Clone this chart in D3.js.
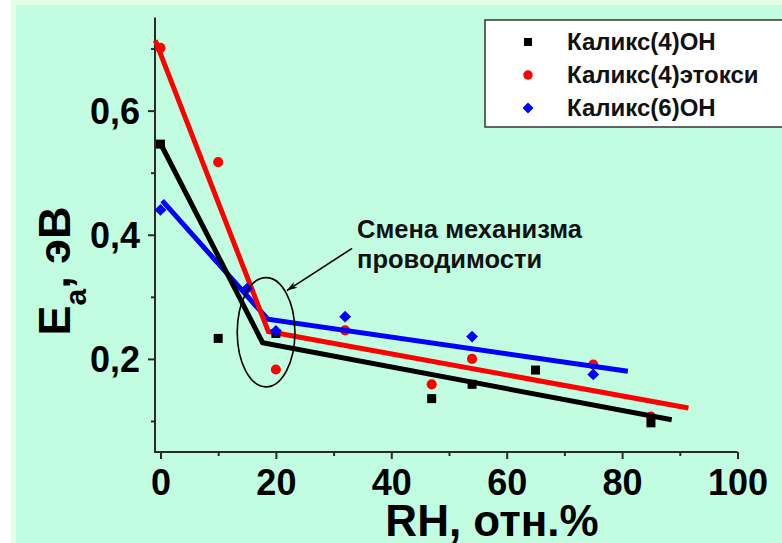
<!DOCTYPE html>
<html>
<head>
<meta charset="utf-8">
<script src="https://cdn.jsdelivr.net/npm/d3@7"></script>
<style>
  html, body { margin: 0; padding: 0; background: #fff; }
  svg { display: block; font-family: "Liberation Sans", Arial, sans-serif; font-weight: bold; }
</style>
</head>
<body>
<svg id="chart" width="782" height="543"></svg>
<script>
// measured points
const calix4OH_rh = [0, 10, 20, 47, 54, 65, 85]
const calix4OH_ea = [0.546, 0.233, 0.241, 0.136, 0.159, 0.182, 0.097]
const calix4Et_rh = [0, 10, 20, 32, 47, 54, 75, 85]
const calix4Et_ea = [0.701, 0.517, 0.183, 0.246, 0.159, 0.2, 0.191, 0.107]
const calix6OH_rh = [0, 15, 20, 32, 54, 75]
const calix6OH_ea = [0.44, 0.313, 0.245, 0.268, 0.236, 0.175]

// two-segment fits: start, break, end
const fit4OH_rh = [0, 17.7, 88.6]
const fit4OH_ea = [0.547, 0.226, 0.102]
const fit4Et_rh = [-0.9, 18.7, 91.5]
const fit4Et_ea = [0.713, 0.244, 0.121]
const fit6OH_rh = [0.3, 18.6, 81]
const fit6OH_ea = [0.455, 0.264, 0.18]

const xTicks = [0, 20, 40, 60, 80, 100]
const xMinor = [10, 30, 50, 70, 90]
const yTicks = [0.2, 0.4, 0.6]
const yMinor = [0.1, 0.3, 0.5, 0.7]
const seriesNames = ["Каликс(4)ОН", "Каликс(4)этокси", "Каликс(6)ОН"]

const svg = d3.select("#chart")

// background with the light frame at left / top
svg.append("rect").attr("width", 782).attr("height", 543).attr("fill", "#ffffff")
svg.append("rect").attr("x", 11).attr("width", 771).attr("height", 543).attr("fill", "#e4fde4")
svg.append("rect").attr("x", 16).attr("y", 5).attr("width", 766).attr("height", 538).attr("fill", "#c3fde1")

const x = d3.scaleLinear().domain([-0.95, 100]).range([155, 737.5])
const y = d3.scaleLinear().domain([0.05, 0.75]).range([452, 17.5])

const pairs = (xs, ys) => xs.map((v, i) => [v, ys[i]])
const line = d3.line().x(d => x(d[0])).y(d => y(d[1]))

// axes
const axisColor = "#2a2a2a"
const xAxis = svg.append("g").attr("transform", "translate(0,452)")
xAxis.call(d3.axisBottom(x).tickValues(xTicks).tickSize(7).tickFormat(d3.format("d")))
xAxis.append("g").call(d3.axisBottom(x).tickValues(xMinor).tickSize(4).tickFormat(""))
xAxis.selectAll(".domain").remove()
xAxis.append("line").attr("x1", 155).attr("x2", x(100)).attr("stroke", axisColor).attr("stroke-width", 2)
xAxis.selectAll("line").attr("stroke", axisColor).attr("stroke-width", 2)
xAxis.selectAll("text")
  .attr("fill", "#000").attr("font-size", 36).attr("font-weight", "bold")
  .attr("font-family", "Liberation Sans, Arial, sans-serif")
  .attr("dy", null).attr("y", 43)

const yAxis = svg.append("g").attr("transform", "translate(155,0)")
yAxis.call(d3.axisLeft(y).tickValues(yTicks).tickSize(7).tickFormat(d => d3.format(".1f")(d).replace(".", ",")))
yAxis.append("g").call(d3.axisLeft(y).tickValues(yMinor).tickSize(4).tickFormat(""))
yAxis.selectAll(".domain").remove()
yAxis.append("line").attr("y1", y(0.75)).attr("y2", 453).attr("stroke", axisColor).attr("stroke-width", 2)
yAxis.selectAll("line").attr("stroke", axisColor).attr("stroke-width", 2)
yAxis.selectAll("text")
  .attr("fill", "#000").attr("font-size", 36).attr("font-weight", "bold")
  .attr("font-family", "Liberation Sans, Arial, sans-serif")
  .attr("x", -15).attr("dy", "0.36em")

// axis titles
svg.append("text").attr("x", 492).attr("y", 536).attr("text-anchor", "middle")
  .attr("font-size", 44).attr("fill", "#000").text("RH, отн.%")

const yt = svg.append("text").attr("transform", "translate(70,271) rotate(-90)")
  .attr("text-anchor", "middle").attr("font-size", 45).attr("fill", "#000")
yt.append("tspan").text("E")
yt.append("tspan").attr("font-size", 30).attr("dy", 16).text("a")
yt.append("tspan").attr("dy", -16).text(", эВ")

// red markers sit under the lines
const symSquare = d3.symbol().type(d3.symbolSquare)
const symCircle = d3.symbol().type(d3.symbolCircle)

svg.append("g").selectAll("path").data(pairs(calix4Et_rh, calix4Et_ea)).join("path")
  .attr("d", symCircle.size(80)())
  .attr("transform", d => `translate(${x(d[0])},${y(d[1])})`)
  .attr("fill", "#ff0000")

// fitted lines
const fits = [
  {pts: pairs(fit6OH_rh, fit6OH_ea), color: "#0000ff"},
  {pts: pairs(fit4OH_rh, fit4OH_ea), color: "#000000"},
  {pts: pairs(fit4Et_rh, fit4Et_ea), color: "#ff0000"}
]
svg.append("g").selectAll("path").data(fits).join("path")
  .attr("d", d => line(d.pts))
  .attr("fill", "none")
  .attr("stroke", d => d.color)
  .attr("stroke-width", 5)
  .attr("stroke-linejoin", "miter")

svg.append("g").selectAll("path").data(pairs(calix4OH_rh, calix4OH_ea)).join("path")
  .attr("d", symSquare.size(81)())
  .attr("transform", d => `translate(${x(d[0])},${y(d[1])})`)
  .attr("fill", "#000")

svg.append("g").selectAll("path").data(pairs(calix6OH_rh, calix6OH_ea)).join("path")
  .attr("d", symSquare.size(70)())
  .attr("transform", d => `translate(${x(d[0])},${y(d[1])}) rotate(45)`)
  .attr("fill", "#0000ff")

// annotation: ellipse round the break and arrow
const ell = {rh: 18.3, ea: 0.243}
svg.append("ellipse")
  .attr("cx", x(ell.rh)).attr("cy", y(ell.ea))
  .attr("rx", x(ell.rh + 5) - x(ell.rh)).attr("ry", y(ell.ea - 0.088) - y(ell.ea))
  .attr("fill", "none").attr("stroke", "#000").attr("stroke-width", 1.6)

const arrowFrom = [33.2, 0.378], arrowTo = [21.9, 0.31]
const ax1 = x(arrowFrom[0]), ay1 = y(arrowFrom[1]), ax2 = x(arrowTo[0]), ay2 = y(arrowTo[1])
svg.append("line").attr("x1", ax1).attr("y1", ay1).attr("x2", ax2).attr("y2", ay2)
  .attr("stroke", "#000").attr("stroke-width", 1.6)
const ang = Math.atan2(ay2 - ay1, ax2 - ax1)
const hl = 11, hw = 0.32
svg.append("path")
  .attr("d", `M${ax2},${ay2}L${ax2 - hl * Math.cos(ang - hw)},${ay2 - hl * Math.sin(ang - hw)}L${ax2 - hl * 0.7 * Math.cos(ang)},${ay2 - hl * 0.7 * Math.sin(ang)}L${ax2 - hl * Math.cos(ang + hw)},${ay2 - hl * Math.sin(ang + hw)}Z`)
  .attr("fill", "#000")

svg.append("text").attr("x", 357).attr("y", 238).attr("font-size", 25.5).attr("fill", "#111").text("Смена механизма")
svg.append("text").attr("x", 357).attr("y", 268).attr("font-size", 25.5).attr("fill", "#111").text("проводимости")

// legend
const lg = svg.append("g")
lg.append("rect").attr("x", 485).attr("y", 20).attr("width", 320).attr("height", 107)
  .attr("fill", "#fff").attr("stroke", "#333").attr("stroke-width", 1.5)
const lgRows = [42, 75, 108]
lg.append("path").attr("d", symSquare.size(64)()).attr("transform", `translate(528,${lgRows[0]})`).attr("fill", "#000")
lg.append("path").attr("d", symCircle.size(70)()).attr("transform", `translate(528,${lgRows[1]})`).attr("fill", "#ff0000")
lg.append("path").attr("d", symSquare.size(60)()).attr("transform", `translate(528,${lgRows[2]}) rotate(45)`).attr("fill", "#0000ff")
lg.selectAll("text.lab").data(seriesNames).join("text")
  .attr("class", "lab")
  .attr("x", 567).attr("y", (d, i) => lgRows[i] + 8)
  .attr("font-size", 24).attr("fill", "#111").text(d => d)
</script>
</body>
</html>
